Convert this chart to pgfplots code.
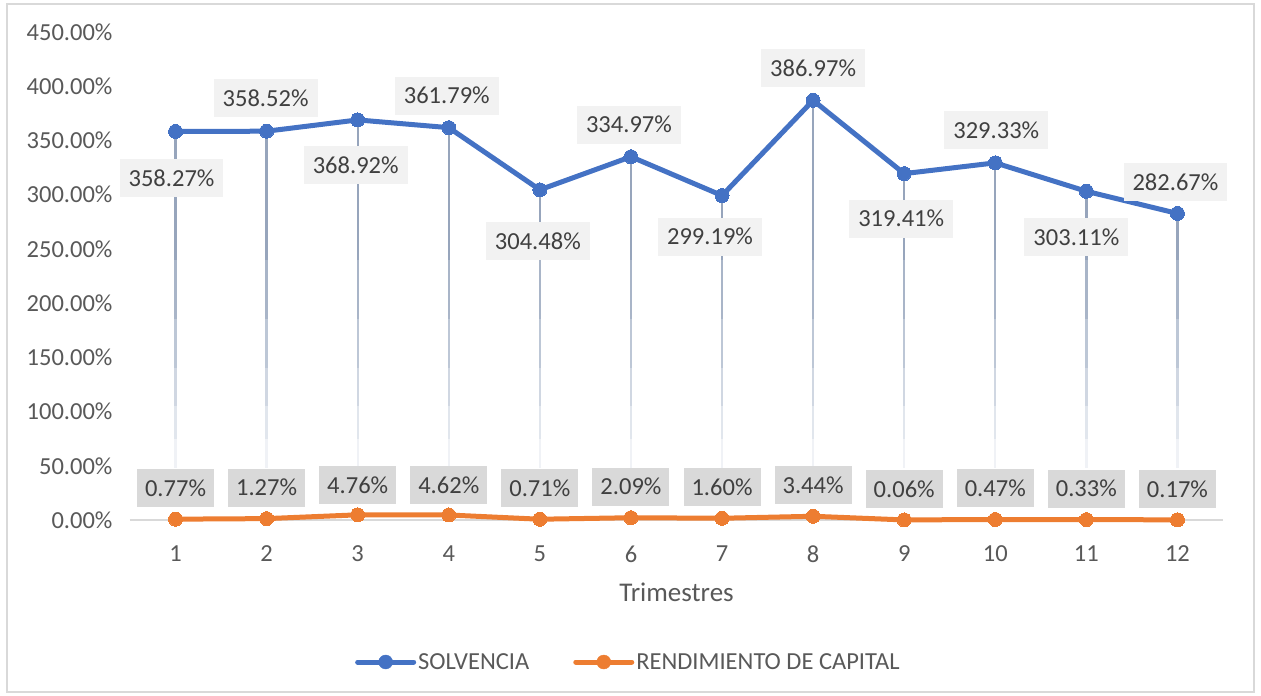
\documentclass[border=0pt]{standalone}
\usepackage{pgfplots}
\pgfplotsset{compat=1.18}
\usepackage{pgfplotstable}
\usepackage{fontspec}
\setmainfont{Carlito}
\definecolor{sblue}{HTML}{4472C4}
\definecolor{sorange}{HTML}{ED7D31}
\definecolor{tgray}{HTML}{595959}
\definecolor{lgray}{HTML}{404040}
\definecolor{boxa}{HTML}{F2F2F2}
\definecolor{boxb}{HTML}{D9D9D9}
\definecolor{ldA}{HTML}{F0F2F6}
\definecolor{ldB}{HTML}{E1E6ED}
\definecolor{ldC}{HTML}{D0D7E2}
\definecolor{ldD}{HTML}{BDC7D6}
\definecolor{ldE}{HTML}{A9B5C8}
\definecolor{ldF}{HTML}{97A5BC}
\newcommand\tf{\fontsize{24.5}{28}\selectfont}
\newcommand\lf{\fontsize{24.5}{28}\selectfont}
\newcommand\af{\fontsize{27}{31}\selectfont}

\pgfplotstableread{
x s dx dy
1 358.27 -4 -46.5
2 358.52 -1 33
3 368.92 -2 -45
4 361.79 -2 32
5 304.48 -2 -51
6 334.97 -2 32
7 299.19 -12 -41
8 386.97 0 32
9 319.41 -3 -45
10 329.33 1 33
11 303.11 -10 -46
12 282.67 -2 31.5
}\solv

\pgfplotstableread{
x r dy
1 0.77 31
2 1.27 31
3 4.76 30
4 4.62 30
5 0.71 31
6 2.09 31
7 1.60 31
8 3.44 31
9 0.06 31
10 0.47 31
11 0.33 31
12 0.17 31
}\rend

\begin{document}
\begin{tikzpicture}
\useasboundingbox (0pt,0pt) rectangle (1261pt,696pt);
\draw[boxb, line width=1.2pt] (7pt,4pt) rectangle (1254pt,692pt);
\begin{axis}[
  at={(130pt,176pt)}, anchor=south west,
  scale only axis, width=1093pt, height=488pt,
  xmin=0.5, xmax=12.5, ymin=0, ymax=450,
  clip=false,
  axis x line*=bottom, axis y line*=left,
  x axis line style={draw=boxb, line width=1.5pt, -},
  y axis line style={draw=none},
  tick style={draw=none},
  xtick={1,...,12},
  ytick={0,50,...,450},
  yticklabel={\pgfmathprintnumber[fixed,fixed zerofill,precision=2,assume math mode=true]{\tick}\%},
  xticklabel={\pgfmathprintnumber[assume math mode=true]{\tick}},
  ticklabel style={font=\tf, text=tgray},
  yticklabel style={anchor=east, xshift=-14pt},
  xticklabel style={anchor=center, yshift=-34pt},
  xlabel={Trimestres},
  xlabel style={at={(axis description cs:0.5,-0.1475)}, anchor=center, font=\af, text=tgray},
  legend style={at={(0.456,-0.291)}, anchor=center, draw=none, fill=none,
    legend columns=2, font=\lf, text=tgray,
    /tikz/every even column/.append style={column sep=42pt},
    legend cell align=left},
]
% leader lines (fading)
\addplot[draw=none, forget plot, error bars/.cd, y dir=minus, y explicit, error mark=none,
  error bar style={color=ldA, line width=2.3pt}] table[x=x, y=s, y error minus expr=\thisrow{s}-48] {\solv};
\addplot[draw=none, forget plot, error bars/.cd, y dir=minus, y explicit, error mark=none,
  error bar style={color=ldB, line width=2.3pt}] table[x=x, y=s, y error minus expr=\thisrow{s}-75] {\solv};
\addplot[draw=none, forget plot, error bars/.cd, y dir=minus, y explicit, error mark=none,
  error bar style={color=ldC, line width=2.3pt}] table[x=x, y=s, y error minus expr=\thisrow{s}-105] {\solv};
\addplot[draw=none, forget plot, error bars/.cd, y dir=minus, y explicit, error mark=none,
  error bar style={color=ldD, line width=2.3pt}] table[x=x, y=s, y error minus expr=\thisrow{s}-140] {\solv};
\addplot[draw=none, forget plot, error bars/.cd, y dir=minus, y explicit, error mark=none,
  error bar style={color=ldE, line width=2.3pt}] table[x=x, y=s, y error minus expr=\thisrow{s}-185] {\solv};
\addplot[draw=none, forget plot, error bars/.cd, y dir=minus, y explicit, error mark=none,
  error bar style={color=ldF, line width=2.3pt}] table[x=x, y=s, y error minus expr=\thisrow{s}-240] {\solv};

\addlegendimage{legend image code/.code={
  \draw[sblue, line width=5pt, line cap=round] (0pt,0pt) -- (56pt,0pt);
  \fill[sblue] (28pt,0pt) circle (7pt);}}
\addlegendentry{SOLVENCIA}
\addlegendimage{legend image code/.code={
  \draw[sorange, line width=5pt, line cap=round] (0pt,0pt) -- (56pt,0pt);
  \fill[sorange] (28pt,0pt) circle (7pt);}}
\addlegendentry{RENDIMIENTO DE CAPITAL}

\addplot[forget plot, color=sblue, line width=5pt, mark=*, mark size=7pt,
  mark options={fill=sblue, draw=sblue, line width=0pt},
  point meta=y,
  nodes near coords={\pgfmathprintnumber[fixed,fixed zerofill,precision=2,assume math mode=true]{\pgfplotspointmeta}\%},
  visualization depends on={\thisrow{dx}\as\dx},
  visualization depends on={\thisrow{dy}\as\dy},
  every node near coord/.append style={anchor=center, xshift=\dx pt, yshift=\dy pt,
    fill=boxa, text=lgray, font=\tf, inner xsep=9pt, minimum height=38pt}
] table[x=x, y=s] {\solv};

\addplot[forget plot, color=sorange, line width=5pt, mark=*, mark size=7pt,
  mark options={fill=sorange, draw=sorange, line width=0pt},
  point meta=y,
  nodes near coords={\pgfmathprintnumber[fixed,fixed zerofill,precision=2,assume math mode=true]{\pgfplotspointmeta}\%},
  visualization depends on={\thisrow{dy}\as\dy},
  every node near coord/.append style={anchor=center, yshift=\dy pt,
    fill=boxb, text=lgray, font=\tf, inner xsep=8pt, minimum height=38pt}
] table[x=x, y=r] {\rend};
\addplot[draw=none, forget plot, error bars/.cd, y dir=plus, y explicit, error mark=none,
  error bar style={color=white, line width=1.2pt}] table[x=x, y=r, y error plus expr=6] {\rend};
\end{axis}
\end{tikzpicture}
\end{document}
